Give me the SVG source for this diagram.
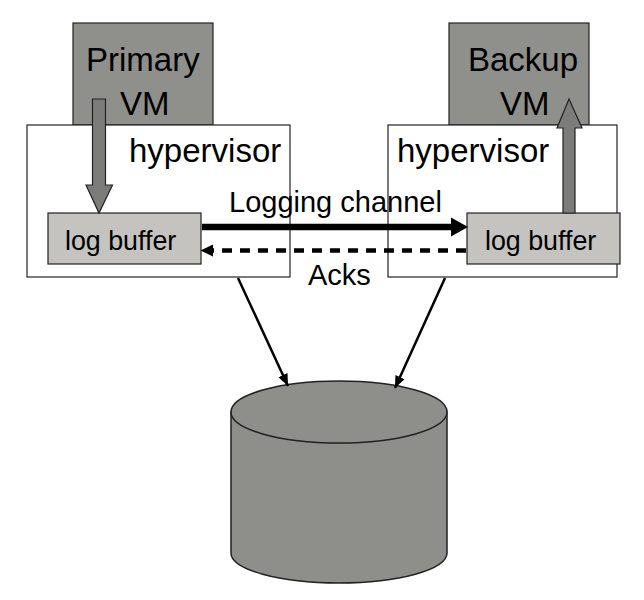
<svg xmlns="http://www.w3.org/2000/svg" width="644" height="600" viewBox="0 0 644 600">
<style>
text{font-family:"Liberation Sans",Arial,Helvetica,sans-serif;fill:#000}
.vm{fill:#8f8f8b;stroke:#222;stroke-width:1.2}
.hv{fill:#fff;stroke:#222;stroke-width:1.2}
.lb{fill:#c4c3bf;stroke:#222;stroke-width:1.2}
.ga{fill:#7c7c7a;stroke:#222;stroke-width:1.2}
.big{font-size:33px}
.mid{font-size:29px}
.sm{font-size:26.8px}
</style>
<defs>
<marker id="ah" markerWidth="12" markerHeight="12" refX="12" refY="5" orient="auto" markerUnits="userSpaceOnUse" viewBox="0 0 12 10">
<path d="M0,0 L12,5 L0,10 Z" fill="#000"/>
</marker>
</defs>
<g id="primary-vm">
<rect class="vm" x="73" y="23" width="140" height="102"/>
<text class="big" x="86" y="71">Primary</text>
<text class="big" x="120" y="115">VM</text>
</g>
<g id="backup-vm">
<rect class="vm" x="449" y="23" width="140" height="102"/>
<text class="big" x="468" y="71">Backup</text>
<text class="big" x="500" y="115">VM</text>
</g>
<g id="hypervisor-left">
<rect class="hv" x="27" y="125" width="263" height="152"/>
<text class="big" x="129" y="162">hypervisor</text>
</g>
<g id="hypervisor-right">
<rect class="hv" x="388" y="125" width="229" height="152"/>
<text class="big" x="397" y="162">hypervisor</text>
</g>
<g id="log-buffer-left">
<rect class="lb" x="48" y="213" width="153" height="51"/>
<text class="sm" x="65" y="250">log buffer</text>
</g>
<g id="log-buffer-right">
<rect class="lb" x="467" y="213" width="153" height="51"/>
<text class="sm" x="485" y="250">log buffer</text>
</g>
<g id="storage">
<path d="M231,412 L231,553 A108,30 0 0 0 447,553 L447,412 Z" fill="#8e8e8a" stroke="#222" stroke-width="1.5"/>
<ellipse cx="339" cy="412" rx="108" ry="31" fill="#8e8e8a" stroke="#222" stroke-width="1.5"/>
</g>
<g id="connectors">
<polygon class="ga" points="92.5,99 105.5,99 105.5,185 112.5,185 99,213 86,185 92.5,185"/>
<polygon class="ga" points="563,213 575,213 575,128 582,128 569,99 557,128 563,128"/>
<line x1="202" y1="227" x2="452" y2="227" stroke="#000" stroke-width="6.5"/>
<polygon points="451,217.5 468,227 451,236.5" fill="#000"/>
<line x1="466" y1="250.5" x2="212" y2="250.5" stroke="#000" stroke-width="4.5" stroke-dasharray="10,8"/>
<polygon points="213,244.5 200.5,250.5 213,256.5" fill="#000"/>
<text class="mid" x="229" y="212">Logging channel</text>
<text class="mid" x="308" y="285">Acks</text>
<line x1="238" y1="278" x2="288" y2="386" stroke="#000" stroke-width="2.5" marker-end="url(#ah)"/>
<line x1="445" y1="278" x2="395" y2="388" stroke="#000" stroke-width="2.5" marker-end="url(#ah)"/>
</g>
</svg>
